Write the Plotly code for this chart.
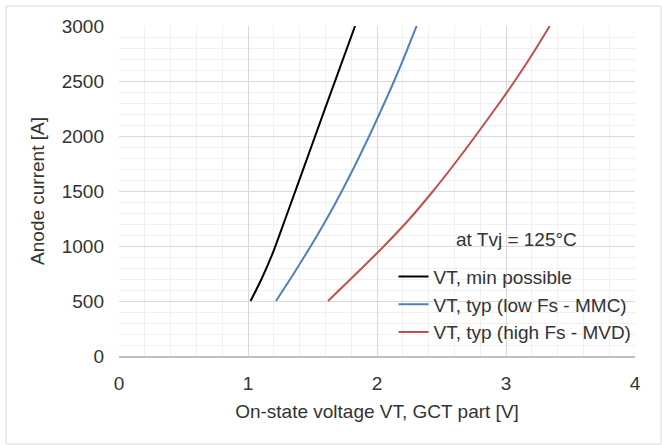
import plotly.graph_objects as go

# Data
vt_min_x = [1.02, 1.105, 1.19, 1.30, 1.45, 1.60, 1.83]
vt_min_y = [500, 700, 930, 1282, 1770, 2258, 3000]

vt_low_x = [1.217, 1.355, 1.487, 1.612, 1.728, 1.837, 1.940, 2.038, 2.133, 2.222, 2.307]
vt_low_y = [500, 750, 1000, 1250, 1500, 1750, 2000, 2250, 2500, 2750, 3000]

vt_high_x = [1.62, 1.84, 2.055, 2.255, 2.435, 2.603, 2.763, 2.918, 3.068, 3.208, 3.339]
vt_high_y = [500, 750, 1000, 1250, 1500, 1750, 2000, 2250, 2500, 2750, 3000]

names = ["VT, min possible", "VT, typ (low Fs - MMC)", "VT, typ (high Fs - MVD)"]
colors = ["#000000", "#4F81BD", "#C0504D"]

x_ticks = [0, 1, 2, 3, 4]
y_ticks = [0, 500, 1000, 1500, 2000, 2500, 3000]

FONT = "Liberation Sans, Arial, sans-serif"
FS = 19
TXT = "#333333"

fig = go.Figure()
for xs, ys, n, c in zip([vt_min_x, vt_low_x, vt_high_x],
                        [vt_min_y, vt_low_y, vt_high_y], names, colors):
    fig.add_trace(go.Scatter(x=xs, y=ys, mode="lines", name=n,
                             line=dict(color=c, width=2, shape="spline", smoothing=0.6)))

fig.update_layout(
    width=662, height=445,
    margin=dict(l=119, r=27, t=26, b=89),
    paper_bgcolor="white", plot_bgcolor="white",
    font=dict(family=FONT, size=FS, color=TXT),
    showlegend=True,
    legend=dict(x=0.532, y=0.298, xanchor="left", yanchor="top",
                bgcolor="rgba(0,0,0,0)", font=dict(size=FS, color=TXT),
                tracegroupgap=0, itemwidth=30),
    annotations=[dict(x=3.08, y=1060, xref="x", yref="y", text="at Tvj = 125°C",
                      showarrow=False, font=dict(size=FS, color=TXT),
                      xanchor="center", yanchor="middle")],
)
fig.update_xaxes(range=[0, 4], tickvals=x_ticks, ticktext=[str(v) for v in x_ticks],
                 showgrid=True, gridcolor="#d9d9d9", gridwidth=1,
                 minor=dict(dtick=0.2, showgrid=True, gridcolor="#f0f0f0", gridwidth=1),
                 zeroline=False, showline=True, linecolor="#bfbfbf", linewidth=2,
                 ticks="", ticklen=0, ticklabelstandoff=9,
                 title=dict(text="On-state voltage VT, GCT part [V]", standoff=12,
                            font=dict(size=FS, color=TXT)),
                 tickfont=dict(size=FS, color=TXT))
fig.update_yaxes(range=[0, 3000], tickvals=y_ticks, ticktext=[str(v) for v in y_ticks],
                 showgrid=True, gridcolor="#d9d9d9", gridwidth=1,
                 minor=dict(dtick=100, showgrid=True, gridcolor="#f0f0f0", gridwidth=1),
                 zeroline=False, showline=False, ticks="", ticklen=0, ticklabelstandoff=14,
                 title=dict(text="Anode current [A]", standoff=12,
                            font=dict(size=FS, color=TXT)),
                 tickfont=dict(size=FS, color=TXT))

# outer chart border
fig.add_shape(type="rect", xref="paper", yref="paper",
              x0=-113/516, x1=1 + 26/516, y0=-88/330, y1=1 + 20/330,
              line=dict(color="#d9d9d9", width=1), fillcolor="rgba(0,0,0,0)", layer="below")

fig.write_html("out.html")
